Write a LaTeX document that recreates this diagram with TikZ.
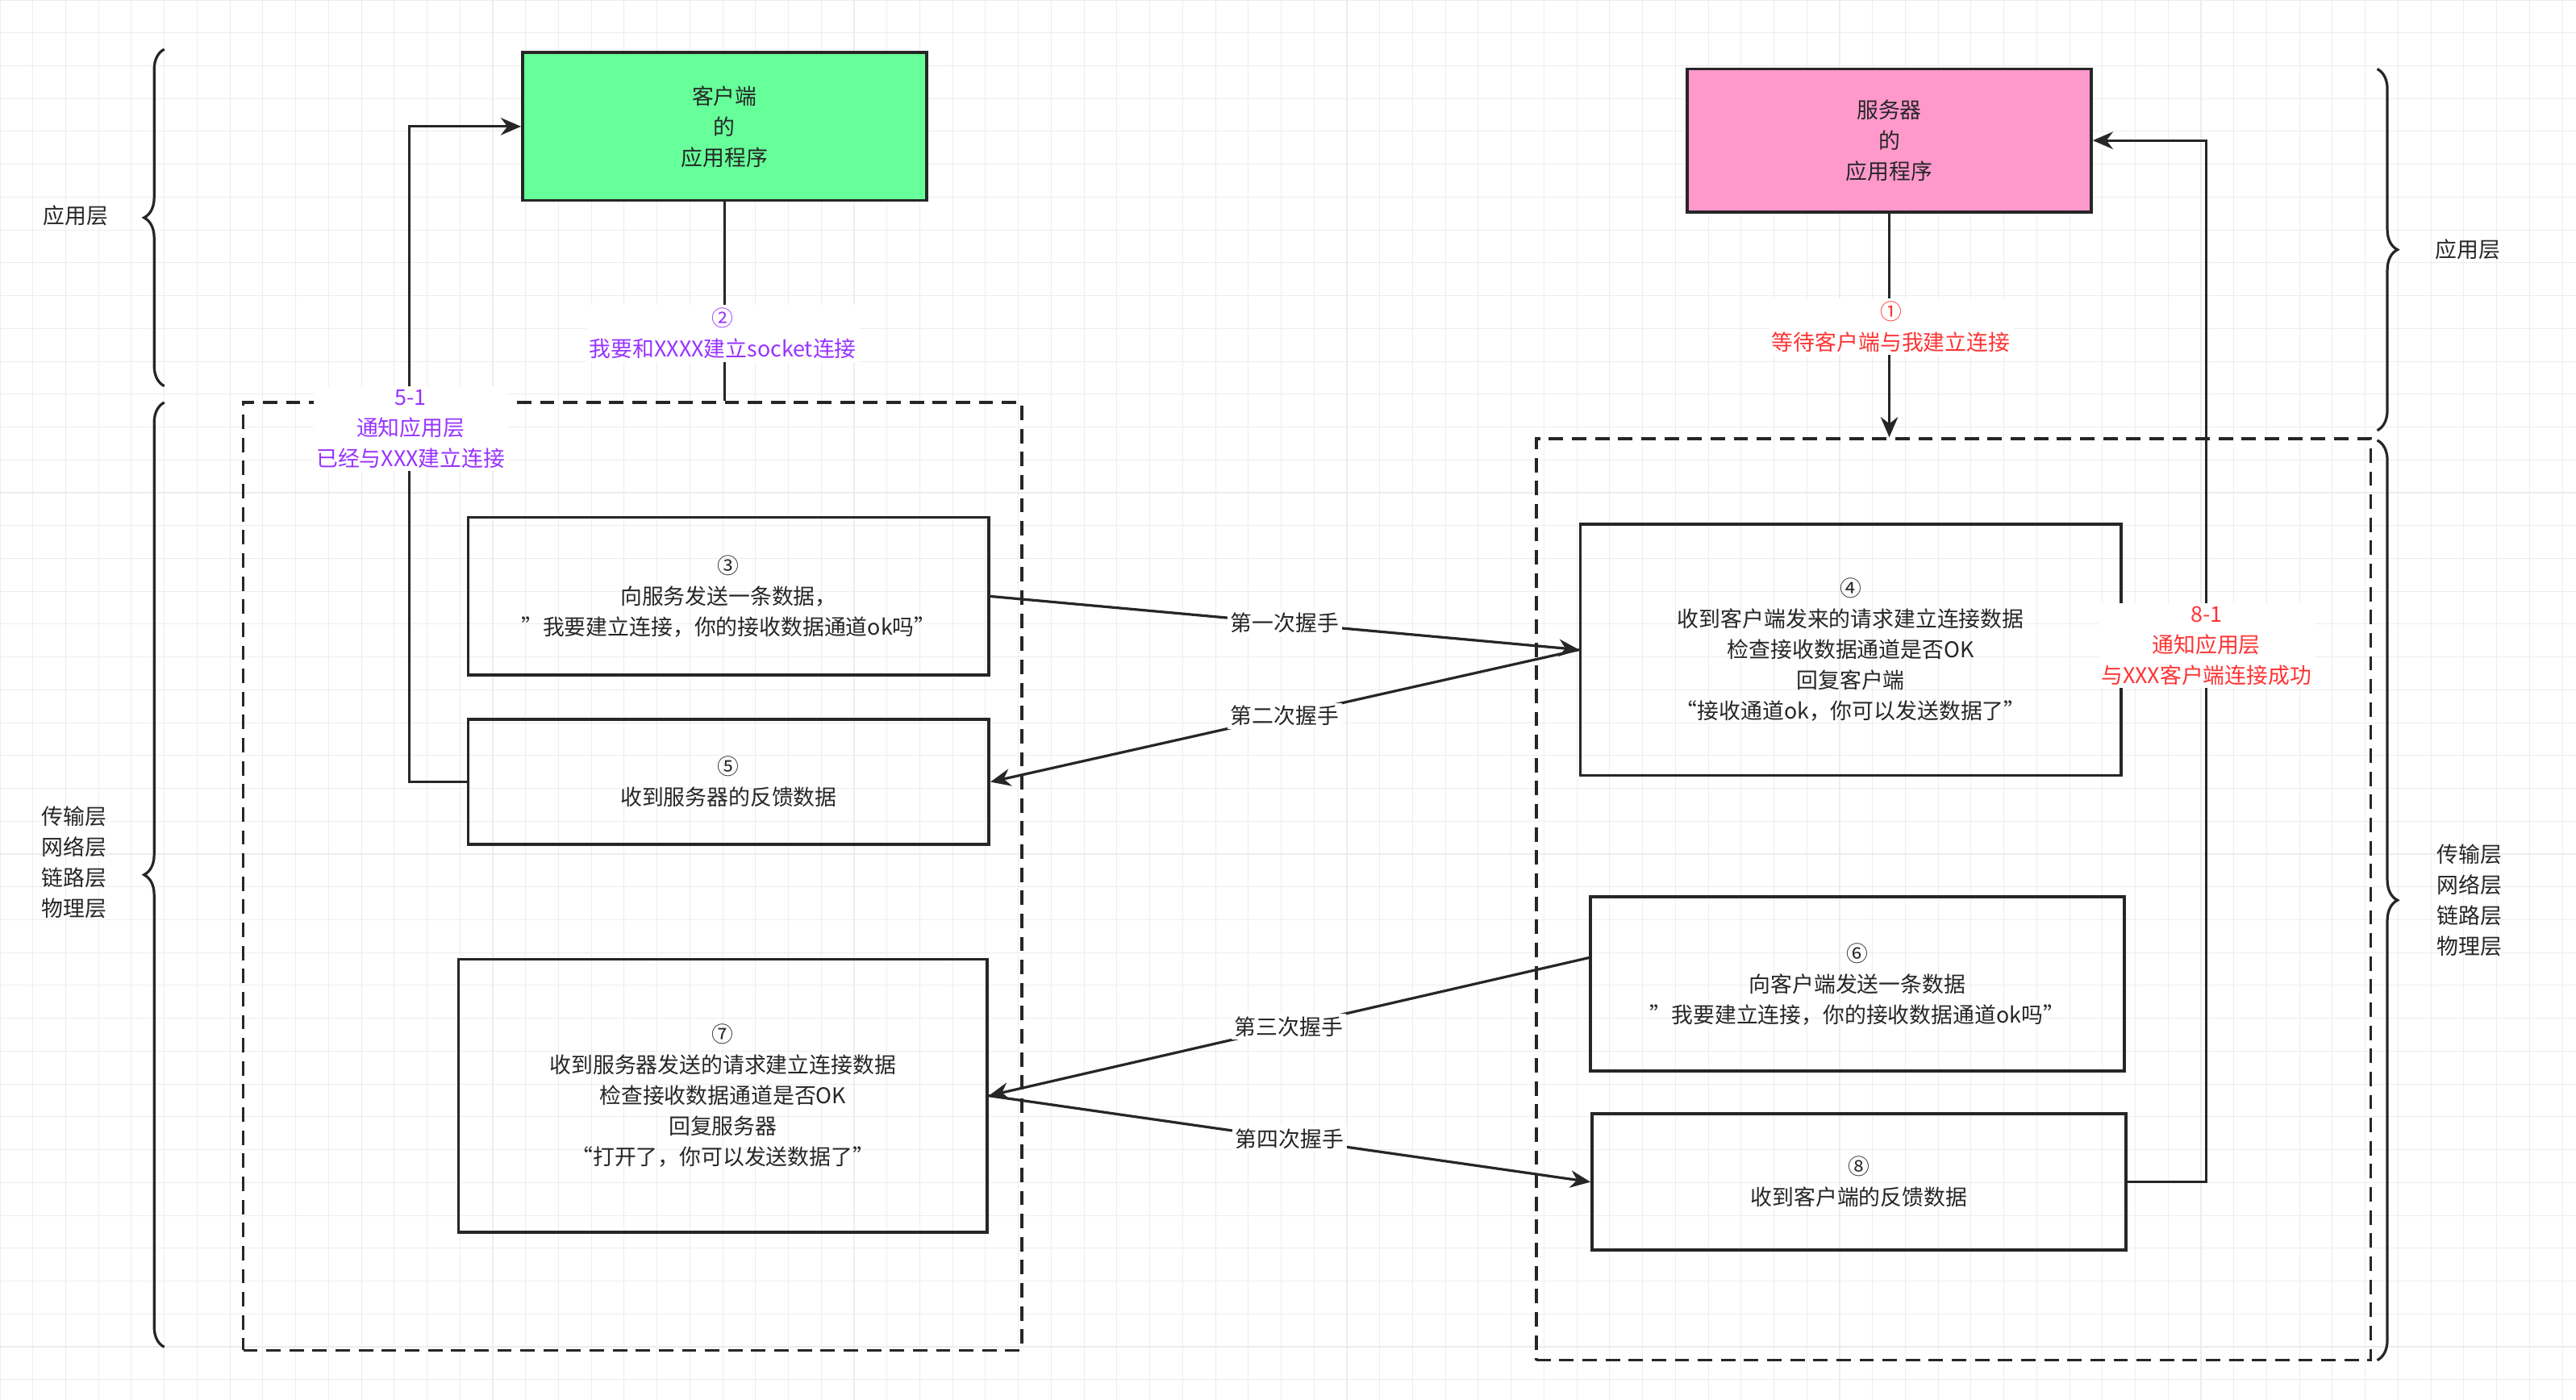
\documentclass[tikz,border=0pt]{standalone}
\usepackage{fontspec}
\setmainfont{Noto Sans CJK SC}
\usetikzlibrary{decorations.pathreplacing,arrows.meta}
\definecolor{appg}{HTML}{66FF99}
\definecolor{appp}{HTML}{FF99CC}
\definecolor{pur}{HTML}{9933FF}
\definecolor{red1}{HTML}{FF3333}
\begin{document}
\begin{tikzpicture}[x=0.02cm,y=-0.02cm,
  every node/.style={font=\fontsize{7.5}{10.6}\selectfont, text=black!85},
  box/.style={draw=black!85, line width=1pt, align=center, inner sep=0pt},
  dbox/.style={draw=black!85, line width=1pt, dash pattern=on 5pt off 3pt, inner sep=0pt},
  con/.style={draw=black!85, line width=0.9pt},
  arr/.style={con, -{Stealth[length=7pt,width=6pt]}},
  brc/.style={draw=black!85, line width=0.9pt, decorate, decoration={brace, amplitude=7pt}},
  lbl/.style={fill=white, align=center, inner sep=1pt}]
\useasboundingbox (0,0) rectangle (1568,852);
\fill[white] (0,0) rectangle (1568,852);
\draw[black!7, line width=0.3pt, step=0.4cm] (0,0) grid (1568,852);
% layer braces
\draw[brc] (100,235) -- (100,30);
\draw[brc] (100,820) -- (100,245);
\draw[brc] (1447,42) -- (1447,262);
\draw[brc] (1447,268) -- (1447,828);
\node (l1) at (46,131) {应用层};
\node[align=center] (l2) at (45,525) {传输层\\网络层\\链路层\\物理层};
\node (r1) at (1502,152) {应用层};
\node[align=center] (r2) at (1503,548) {传输层\\网络层\\链路层\\物理层};
% dashed containers
\node[dbox, minimum width=9.48cm, minimum height=11.54cm] (ldash) at (385,533.5) {};
\node[dbox, minimum width=10.16cm, minimum height=11.22cm] (rdash) at (1189,547.5) {};
% app boxes
\node[box, fill=appg, minimum width=4.92cm, minimum height=1.8cm] (client) at (441,77) {客户端\\的\\应用程序};
\node[box, fill=appp, minimum width=4.92cm, minimum height=1.74cm] (server) at (1150,85.5) {服务器\\的\\应用程序};
% step boxes
\node[box, minimum width=6.34cm, minimum height=1.92cm] (b3) at (443.5,363) {③\\向服务发送一条数据，\\"我要建立连接，你的接收数据通道ok吗"};
\node[box, minimum width=6.34cm, minimum height=1.52cm] (b5) at (443.5,476) {⑤\\收到服务器的反馈数据};
\node[box, minimum width=6.44cm, minimum height=3.32cm] (b7) at (440,667) {⑦\\收到服务器发送的请求建立连接数据\\检查接收数据通道是否OK\\回复服务器\\“打开了，你可以发送数据了”};
\node[box, minimum width=6.58cm, minimum height=3.06cm] (b4) at (1126.5,395.5) {④\\收到客户端发来的请求建立连接数据\\检查接收数据通道是否OK\\回复客户端\\“接收通道ok，你可以发送数据了”};
\node[box, minimum width=6.5cm, minimum height=2.12cm] (b6) at (1130.5,599) {⑥\\向客户端发送一条数据\\"我要建立连接，你的接收数据通道ok吗"};
\node[box, minimum width=6.5cm, minimum height=1.66cm] (b8) at (1131.5,719.5) {⑧\\收到客户端的反馈数据};
% vertical app connectors
\draw[con] (client.south) -- (client.south |- ldash.north);
\node[lbl, text=pur] (t2) at (440,203) {②\\我要和XXXX建立socket连接};
\draw[arr] (server.south) -- (server.south |- rdash.north);
\node[lbl, text=red1] (t1) at (1151,199) {①\\等待客户端与我建立连接};
\draw[arr] (b5.west) -- ++(-35,0) |- (client.west);
\node[lbl, text=pur] (t51) at (250,261) {5-1\\通知应用层\\已经与XXX建立连接};
\draw[arr] (b8.east) -- ++(48,0) |- (server.east);
\node[lbl, text=red1] (t81) at (1343,393) {8-1\\通知应用层\\与XXX客户端连接成功};
% handshakes
\draw[arr] (b3.east) -- node[lbl, pos=0.5] (h1) {第一次握手} (b4.west);
\draw[arr] (b4.west) -- node[lbl, pos=0.5] (h2) {第二次握手} (b5.east);
\draw[arr] ([yshift=0.32cm]b6.west) -- node[lbl, pos=0.5] (h3) {第三次握手} (b7.east);
\draw[arr] (b7.east) -- node[lbl, pos=0.5] (h4) {第四次握手} (b8.west);
\end{tikzpicture}
\end{document}
